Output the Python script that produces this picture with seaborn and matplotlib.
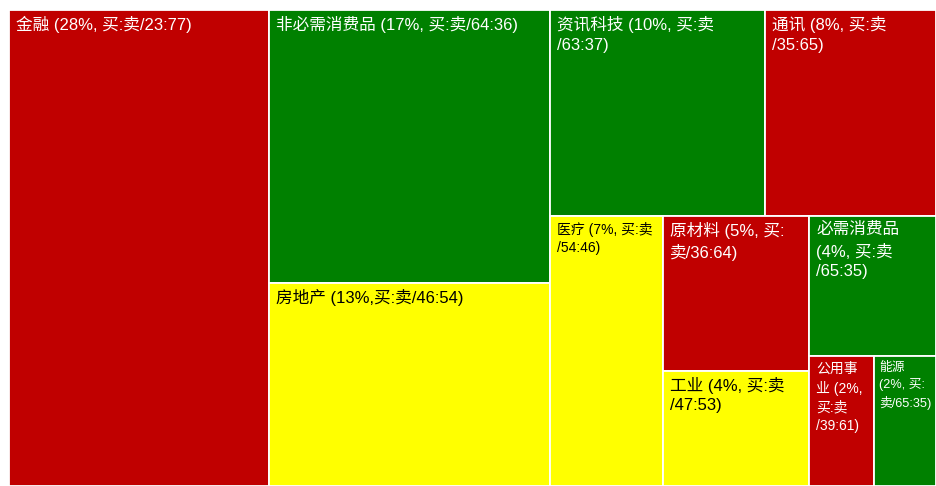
import matplotlib
matplotlib.use("Agg")
import matplotlib.pyplot as plt
import seaborn as sns

# sectors in treemap order, weight = share of market value
sectors = ['金融', '非必需消费品', '房地产', '资讯科技', '通讯', '医疗',
           '原材料', '工业', '必需消费品', '公用事业', '能源']
weights = [27.9, 17.2, 12.8, 10.0, 7.9, 6.9, 5.1, 3.8, 4.0, 1.9, 1.8]
buy = [23, 64, 46, 63, 35, 54, 36, 47, 65, 39, 65]
labels = [
    '金融 (28%, 买:卖/23:77)',
    '非必需消费品 (17%, 买:卖/64:36)',
    '房地产 (13%,买:卖/46:54)',
    '资讯科技 (10%, 买:卖\n/63:37)',
    '通讯 (8%, 买:卖\n/35:65)',
    '医疗 (7%, 买:卖\n/54:46)',
    '原材料 (5%, 买:\n卖/36:64)',
    '工业 (4%, 买:卖\n/47:53)',
    '必需消费品\n(4%, 买:卖\n/65:35)',
    '公用事\n业 (2%,\n买:卖\n/39:61)',
    '能源\n(2%, 买:\n卖/65:35)',
]
small = {'医疗': 10, '公用事业': 10, '能源': 9.2}
# number of boxes in each strip of the layout
strips = [1, 2, 2, 1, 2, 1, 2]


def strip_layout(vals, strips, x, y, w, h):
    rects = []
    i = 0
    for n in strips:
        group = vals[i:i + n]
        s = sum(group)
        rest = sum(vals[i:])
        if w >= h:
            cw = w * s / rest
            yy = y
            for v in group:
                ch = h * v / s
                rects.append((x, yy, cw, ch))
                yy += ch
            x += cw
            w -= cw
        else:
            rh = h * s / rest
            xx = x
            for v in group:
                rw = w * v / s
                rects.append((xx, y, rw, rh))
                xx += rw
            y += rh
            h -= rh
        i += n
    return rects


def colour(b):
    if b < 40:
        return '#C00000'
    if b > 60:
        return '#008000'
    return '#FFFF00'


sns.set_theme(style="white")
plt.rcParams['font.family'] = ['Liberation Sans', 'Noto Sans CJK SC']

W, H = 927, 476
fig = plt.figure(figsize=(9.36, 4.86), dpi=100)
ax = fig.add_axes([9 / 936, 0, W / 936, H / 486])

rects = strip_layout(weights, strips, 0, 0, W, H)
for (x, y, w, h), name, lab, b in zip(rects, sectors, labels, buy):
    c = colour(b)
    ax.bar(x, h, width=w, bottom=y, align='edge', color=c,
           edgecolor='white', linewidth=1.3)
    tc = 'black' if c == '#FFFF00' else 'white'
    fs = small.get(name, 12)
    pad = 5 if name == '能源' else 7
    ax.text(x + pad, y + 6, lab, ha='left', va='top', color=tc,
            fontsize=fs, linespacing=1.4, clip_on=False)

ax.set_xlim(0, W)
ax.set_ylim(H, 0)
ax.axis('off')
fig.savefig('out.png', dpi=100)
